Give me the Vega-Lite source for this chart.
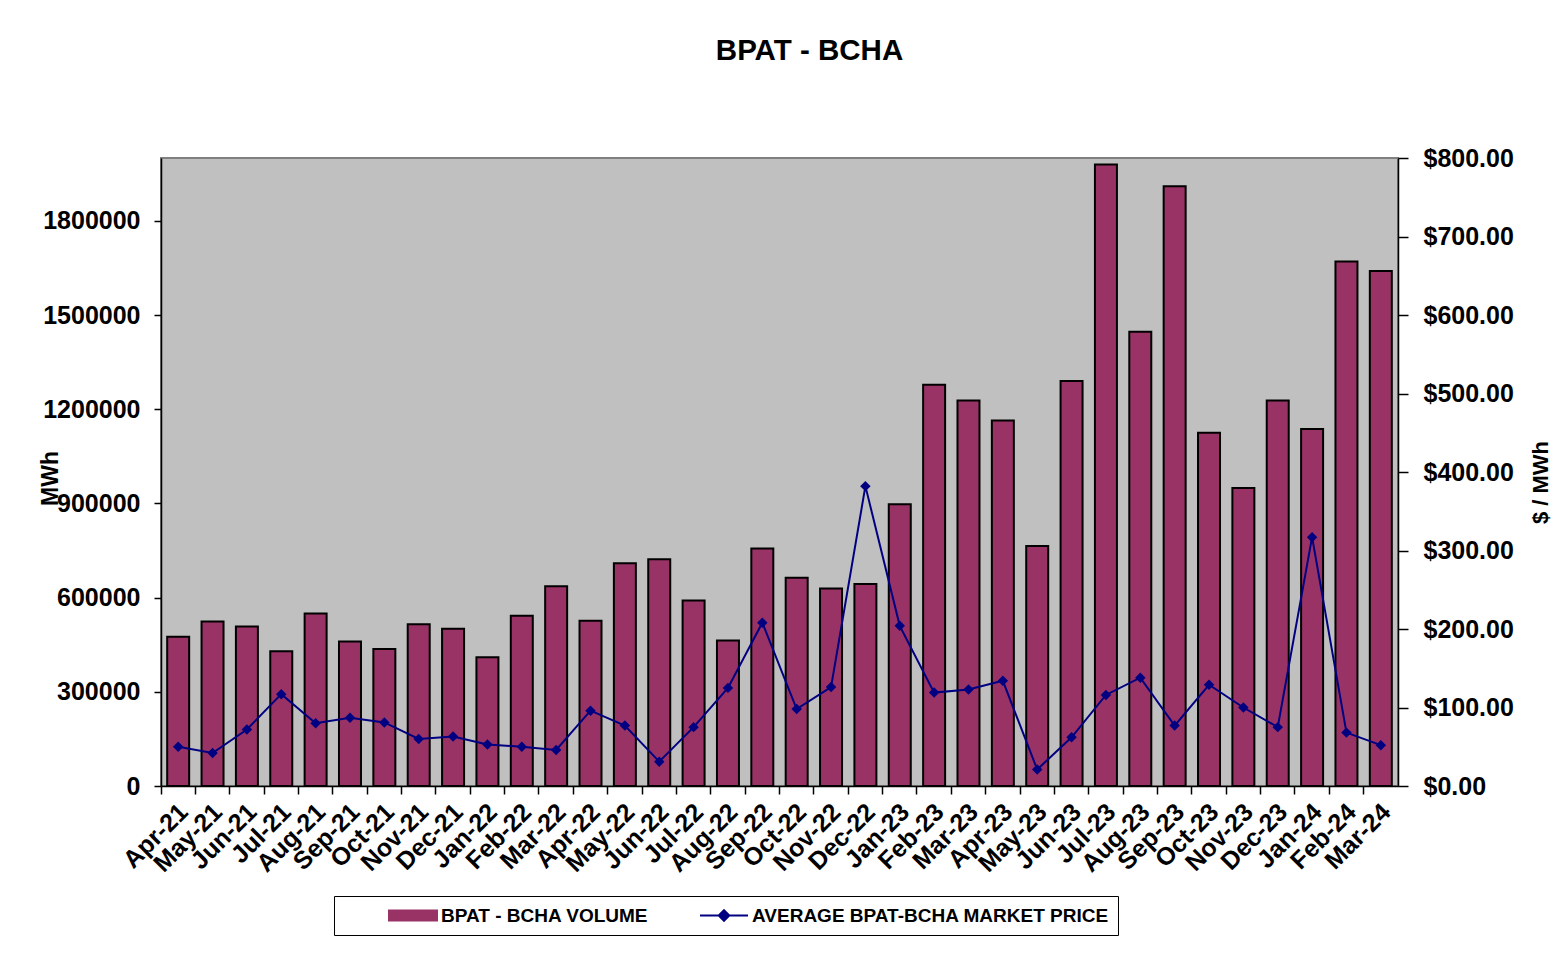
{
  "$schema": "https://vega.github.io/schema/vega-lite/v6.json",
  "autosize": "none",
  "width": 1237,
  "height": 628,
  "padding": {"left": 161, "top": 158, "right": 161, "bottom": 172},
  "background": "white",
  "title": {"text": "BPAT - BCHA", "font": "Liberation Sans", "fontSize": 29.5, "fontWeight": "bold", "color": "black", "anchor": "middle", "offset": 80, "dx": 30},
  "data": {"values": [
    {"month": "Apr-21", "volume": 475000, "price": 50},
    {"month": "May-21", "volume": 524000, "price": 42},
    {"month": "Jun-21", "volume": 508000, "price": 72},
    {"month": "Jul-21", "volume": 429000, "price": 117},
    {"month": "Aug-21", "volume": 549000, "price": 80},
    {"month": "Sep-21", "volume": 460000, "price": 87},
    {"month": "Oct-21", "volume": 436000, "price": 81},
    {"month": "Nov-21", "volume": 515000, "price": 60},
    {"month": "Dec-21", "volume": 501000, "price": 63},
    {"month": "Jan-22", "volume": 410000, "price": 53},
    {"month": "Feb-22", "volume": 542000, "price": 50},
    {"month": "Mar-22", "volume": 636000, "price": 46},
    {"month": "Apr-22", "volume": 526000, "price": 96},
    {"month": "May-22", "volume": 709000, "price": 77},
    {"month": "Jun-22", "volume": 722000, "price": 31},
    {"month": "Jul-22", "volume": 591000, "price": 75},
    {"month": "Aug-22", "volume": 463000, "price": 125},
    {"month": "Sep-22", "volume": 756000, "price": 208},
    {"month": "Oct-22", "volume": 663000, "price": 98},
    {"month": "Nov-22", "volume": 629000, "price": 126},
    {"month": "Dec-22", "volume": 643000, "price": 382},
    {"month": "Jan-23", "volume": 897000, "price": 204},
    {"month": "Feb-23", "volume": 1278000, "price": 119},
    {"month": "Mar-23", "volume": 1228000, "price": 123},
    {"month": "Apr-23", "volume": 1164000, "price": 134},
    {"month": "May-23", "volume": 764000, "price": 21},
    {"month": "Jun-23", "volume": 1290000, "price": 62},
    {"month": "Jul-23", "volume": 1979000, "price": 116},
    {"month": "Aug-23", "volume": 1447000, "price": 138},
    {"month": "Sep-23", "volume": 1910000, "price": 77},
    {"month": "Oct-23", "volume": 1125000, "price": 129},
    {"month": "Nov-23", "volume": 949000, "price": 100},
    {"month": "Dec-23", "volume": 1228000, "price": 75},
    {"month": "Jan-24", "volume": 1137000, "price": 317},
    {"month": "Feb-24", "volume": 1670000, "price": 68},
    {"month": "Mar-24", "volume": 1640000, "price": 52}
  ]},
  "encoding": {
    "x": {
      "field": "month", "type": "ordinal", "sort": null, "title": null,
      "scale": {"paddingInner": 0, "paddingOuter": 0},
      "axis": {"labelAngle": -45, "labelAlign": "right", "labelBaseline": "top", "labelFontSize": 25, "labelPadding": 5, "labelOffset": -3, "tickSize": 8, "bandPosition": 0, "domainWidth": 1.5, "labelOverlap": false}
    }
  },
  "layer": [
    {
      "mark": {"type": "bar", "stroke": "black", "strokeWidth": 2, "width": {"band": 0.64}},
      "encoding": {
        "y": {
          "field": "volume", "type": "quantitative", "title": "MWh",
          "scale": {"domain": [0, 2000000], "nice": false},
          "axis": {"orient": "left", "values": [0, 300000, 600000, 900000, 1200000, 1500000, 1800000], "format": "d", "labelFontSize": 25, "tickSize": 7, "labelPadding": 14, "domainWidth": 1.5, "titleFontSize": 23, "titleAngle": -90, "titleX": -104, "titleY": 320, "titleAlign": "center", "titleBaseline": "alphabetic"}
        },
        "color": {
          "datum": "BPAT - BCHA VOLUME",
          "scale": {"domain": ["BPAT - BCHA VOLUME", "AVERAGE BPAT-BCHA MARKET PRICE"], "range": ["#993366", "#000080"]},
          "legend": {
            "orient": "none", "legendX": 173, "legendY": 738, "direction": "horizontal", "title": null,
            "strokeColor": "black", "padding": 9, "symbolSize": 2304, "clipHeight": 21,
            "symbolOffset": 45, "labelOffset": 3, "columnPadding": 5,
            "labelFont": "Liberation Sans", "labelFontSize": 19, "labelFontWeight": "bold", "labelColor": "black", "labelLimit": 600,
            "encode": {
              "symbols": {"update": {
                "shape": {"signal": "datum.value === 'BPAT - BCHA VOLUME' ? 'M-1,-0.21H1V0.21H-1Z' : 'M-1,0H1M0,-0.22L0.22,0L0,0.22L-0.22,0Z'"},
                "fill": {"signal": "datum.value === 'BPAT - BCHA VOLUME' ? '#993366' : '#000080'"},
                "stroke": {"signal": "datum.value === 'BPAT - BCHA VOLUME' ? 'black' : '#000080'"},
                "strokeWidth": {"value": 2},
                "opacity": {"value": 1}
              }},
              "labels": {"update": {
                "text": {"signal": "indexof(datum.value, 'AVERAGE') >= 0 ? datum.value + '\u00a0\u00a0\u00a0\u00a0\u00a0\u00a0\u00a0\u00a0' : datum.value"}
              }}
            }
          }
        }
      }
    },
    {
      "encoding": {
        "y": {
          "field": "price", "type": "quantitative", "title": "$ / MWh",
          "scale": {"domain": [0, 800], "nice": false},
          "axis": {"orient": "right", "values": [0, 100, 200, 300, 400, 500, 600, 700, 800], "format": "$.2f", "labelFontSize": 25, "tickSize": 10, "labelPadding": 15, "domainWidth": 1.5, "titleFontSize": 22, "titleAngle": -90, "titleX": 149, "titleY": 324, "titleAlign": "center", "titleBaseline": "alphabetic"}
        },
        "color": {
          "datum": "AVERAGE BPAT-BCHA MARKET PRICE",
          "scale": {"domain": ["BPAT - BCHA VOLUME", "AVERAGE BPAT-BCHA MARKET PRICE"], "range": ["#993366", "#000080"]},
          "legend": {
            "orient": "none", "legendX": 173, "legendY": 738, "direction": "horizontal", "title": null,
            "strokeColor": "black", "padding": 9, "symbolSize": 2304, "clipHeight": 21,
            "symbolOffset": 45, "labelOffset": 3, "columnPadding": 5,
            "labelFont": "Liberation Sans", "labelFontSize": 19, "labelFontWeight": "bold", "labelColor": "black", "labelLimit": 600,
            "encode": {
              "symbols": {"update": {
                "shape": {"signal": "datum.value === 'BPAT - BCHA VOLUME' ? 'M-1,-0.21H1V0.21H-1Z' : 'M-1,0H1M0,-0.22L0.22,0L0,0.22L-0.22,0Z'"},
                "fill": {"signal": "datum.value === 'BPAT - BCHA VOLUME' ? '#993366' : '#000080'"},
                "stroke": {"signal": "datum.value === 'BPAT - BCHA VOLUME' ? 'black' : '#000080'"},
                "strokeWidth": {"value": 2},
                "opacity": {"value": 1}
              }},
              "labels": {"update": {
                "text": {"signal": "indexof(datum.value, 'AVERAGE') >= 0 ? datum.value + '\u00a0\u00a0\u00a0\u00a0\u00a0\u00a0\u00a0\u00a0' : datum.value"}
              }}
            }
          }
        }
      },
      "layer": [
        {"mark": {"type": "line", "strokeWidth": 2}},
        {"mark": {"type": "point", "shape": "diamond", "filled": true, "size": 110, "opacity": 1}}
      ]
    }
  ],
  "resolve": {"scale": {"y": "independent"}},
  "config": {
    "view": {"fill": "#C0C0C0", "stroke": "#808080", "strokeWidth": 2},
    "axis": {"labelFont": "Liberation Sans", "labelFontWeight": "bold", "labelColor": "black", "titleFont": "Liberation Sans", "titleFontWeight": "bold", "titleColor": "black", "domainColor": "black", "tickColor": "black", "tickWidth": 1.5, "grid": false}
  }
}
